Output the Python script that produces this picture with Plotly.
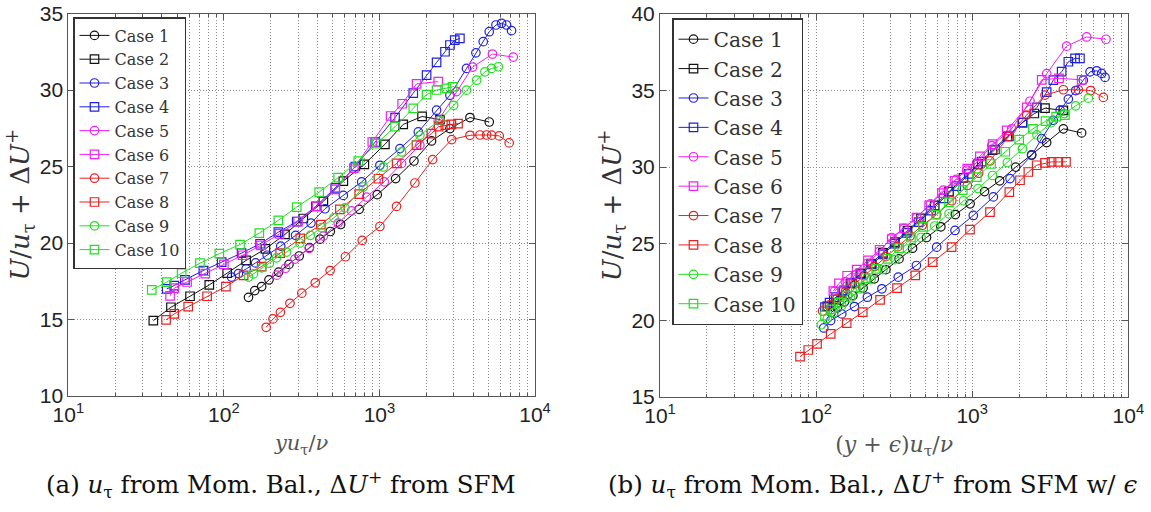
import plotly.graph_objects as go

# ---------------- Panel (a): u_tau from Mom. Bal., dU+ from SFM ----------------
a_x1 = [144, 158, 175, 195, 225, 262, 305, 355, 415, 483, 563, 741, 968, 1271, 1667, 2162, 2838, 3818, 5080]
a_y1 = [16.45, 16.89, 17.15, 17.59, 18.1, 18.6, 19.15, 19.7, 20.25, 20.75, 21.21, 22.2, 23.16, 24.21, 25.36, 26.67, 27.48, 28.2, 27.91]
a_x2 = [35.2, 45.7, 60.6, 80.6, 105, 139, 185, 247, 324, 436, 586, 800, 1084, 1422, 1880, 2450]
a_y2 = [14.93, 15.8, 16.52, 17.26, 18.03, 18.86, 19.62, 20.56, 21.6, 22.72, 24.05, 25.14, 26.45, 27.75, 28.27, 28.07]
a_x3 = [112, 124, 139, 160, 190, 232, 289, 363, 447, 586, 769, 1007, 1355, 1778, 2330, 2838, 3630, 4169, 4645, 5080, 5610, 6100, 6565, 7066]
a_y3 = [17.77, 18.0, 18.3, 18.7, 19.2, 19.8, 20.5, 21.3, 22.24, 23.11, 23.99, 25.08, 26.17, 27.26, 28.68, 29.66, 31.41, 32.43, 33.16, 33.81, 34.25, 34.36, 34.25, 33.88]
a_x4 = [42.9, 48, 56.2, 73.8, 96.8, 130, 171, 224, 294, 390, 520, 700, 940, 1260, 1650, 2010, 2330, 2640, 2840, 3050, 3290]
a_y4 = [17.0, 17.22, 17.59, 18.2, 18.75, 19.34, 19.95, 20.71, 21.4, 22.4, 23.6, 25.0, 26.6, 28.2, 29.8, 30.97, 31.8, 32.5, 32.94, 33.26, 33.37]
a_x5 = [219, 249, 286, 354, 436, 543, 662, 826, 1074, 1387, 1820, 2387, 3130, 3970, 5330, 7250]
a_y5 = [17.9, 18.35, 18.95, 19.65, 20.45, 21.3, 22.1, 23.0, 24.0, 25.2, 26.4, 28.0, 29.9, 31.5, 32.35, 32.15]
a_x6 = [45.1, 48, 58, 76, 100, 132, 173, 228, 300, 395, 520, 685, 900, 1180, 1400, 1733, 2387]
a_y6 = [16.55, 17.05, 17.45, 18.0, 18.6, 19.2, 19.85, 20.6, 21.4, 22.4, 23.5, 24.9, 26.6, 28.3, 29.1, 30.4, 30.55]
a_x7 = [187, 207, 231, 266, 317, 387, 482, 605, 775, 1007, 1288, 1690, 2198, 2913, 3818, 4426, 4887, 5263, 5888, 6823]
a_y7 = [14.49, 15.04, 15.47, 16.06, 16.72, 17.4, 18.2, 19.1, 20.17, 21.08, 22.39, 23.92, 25.45, 26.76, 27.04, 27.06, 27.06, 27.05, 27.0, 26.54]
a_x8 = [42.5, 48, 59, 78, 103, 134, 175, 230, 310, 420, 557, 741, 985, 1290, 1730, 2160, 2400, 2650, 2900, 3200]
a_y8 = [14.97, 15.37, 15.84, 16.52, 17.15, 17.88, 18.46, 19.34, 20.3, 21.2, 22.2, 23.2, 24.2, 25.2, 26.4, 27.15, 27.6, 27.7, 27.75, 27.8]
a_x9 = [144, 155, 175, 196, 218, 253, 308, 360, 425, 510, 600, 788, 1060, 1387, 1820, 2449, 3000, 3630, 4217, 4766, 5263, 5808]
a_y9 = [17.77, 17.98, 18.38, 18.68, 19.03, 19.4, 20.0, 20.5, 21.0, 21.65, 22.3, 23.66, 24.97, 25.95, 27.04, 28.03, 29.0, 29.99, 30.64, 31.19, 31.41, 31.52]
a_x10 = [34.4, 42.9, 53.5, 70.2, 93.5, 127, 169, 224, 294, 410, 543, 731, 960, 1260, 1650, 2010, 2330, 2700, 2950]
a_y10 = [16.94, 17.44, 18.03, 18.68, 19.3, 19.9, 20.65, 21.48, 22.35, 23.33, 24.27, 25.35, 26.5, 27.6, 28.8, 29.7, 30.0, 30.1, 30.2]

# ---------------- Panel (b): ... from SFM w/ epsilon ----------------
b_x1 = [125, 137, 152, 172, 200, 236, 280, 340, 415, 510, 630, 780, 970, 1200, 1500, 1900, 2400, 3000, 3837, 5023]
b_y1 = [20.5, 20.8, 21.2, 21.6, 22.1, 22.7, 23.3, 24.0, 24.7, 25.4, 26.1, 26.9, 27.6, 28.4, 29.1, 30.0, 30.8, 31.6, 32.5, 32.23]
b_x2 = [118, 130, 146, 166, 192, 225, 268, 320, 385, 470, 575, 710, 880, 1090, 1350, 1680, 2100, 2500, 2926, 3837]
b_y2 = [20.9, 21.35, 21.85, 22.4, 23.05, 23.7, 24.4, 25.1, 25.85, 26.65, 27.5, 28.4, 29.3, 30.2, 31.1, 32.0, 32.9, 33.5, 33.85, 33.7]
b_x3 = [112, 124, 146, 176, 213, 264, 336, 439, 592, 776, 1016, 1366, 1747, 2406, 2787, 3310, 3660, 4130, 4600, 5150, 5690, 6270, 6750, 7095]
b_y3 = [19.49, 19.97, 20.41, 20.89, 21.5, 22.05, 22.81, 23.57, 24.77, 25.86, 26.84, 28.05, 29.25, 30.77, 31.86, 33.06, 33.72, 34.44, 35.0, 35.68, 36.22, 36.29, 36.12, 35.86]
b_x4 = [114, 122, 134, 150, 170, 195, 228, 268, 318, 380, 455, 545, 655, 790, 950, 1150, 1400, 1720, 2100, 2600, 3000, 3310, 3740, 4130, 4560, 4900]
b_y4 = [20.85, 21.15, 21.5, 21.95, 22.45, 23.0, 23.65, 24.3, 25.0, 25.7, 26.4, 27.15, 27.95, 28.75, 29.55, 30.35, 31.15, 32.0, 32.9, 33.9, 34.9, 35.68, 36.23, 36.88, 37.1, 37.1]
b_x5 = [131, 154, 181, 213, 255, 305, 365, 441, 540, 654, 790, 922, 1070, 1334, 1790, 2345, 3000, 4027, 5408, 7194]
b_y5 = [21.9, 22.5, 23.0, 23.7, 24.5, 25.4, 26.0, 26.7, 27.6, 28.5, 29.2, 29.8, 30.3, 31.4, 32.5, 34.3, 36.1, 37.9, 38.5, 38.35]
b_x6 = [129, 140, 158, 182, 215, 255, 305, 365, 440, 530, 640, 770, 930, 1120, 1350, 1663, 2234, 2787, 3600, 5023]
b_y6 = [21.9, 22.4, 22.9, 23.3, 23.9, 24.6, 25.3, 26.0, 26.7, 27.5, 28.3, 29.1, 29.9, 30.7, 31.5, 32.4, 33.9, 35.7, 35.8, 35.7]
b_x7 = [110, 122, 136, 154, 176, 203, 237, 280, 334, 400, 480, 592, 740, 930, 1100, 1300, 1706, 2234, 2926, 3837, 4786, 5741, 6922]
b_y7 = [20.6, 21.0, 21.4, 21.85, 22.35, 22.9, 23.5, 24.15, 24.8, 25.5, 26.2, 26.9, 27.8, 28.8, 29.6, 30.4, 32.0, 33.4, 34.7, 35.05, 35.05, 35.0, 34.55]
b_x8 = [78.9, 89.1, 101.4, 124, 157, 199, 257, 330, 432, 558, 738, 968, 1300, 1729, 2024, 2290, 2590, 2926, 3225, 3561, 3989]
b_y8 = [17.62, 18.05, 18.45, 19.1, 19.8, 20.52, 21.33, 22.09, 22.92, 23.79, 24.77, 25.91, 27.06, 28.37, 29.14, 29.68, 30.12, 30.27, 30.34, 30.34, 30.34]
b_x9 = [108, 118, 130, 146, 166, 192, 225, 268, 320, 385, 470, 575, 710, 880, 1090, 1350, 1680, 2100, 2600, 3200, 3900, 4600, 5546]
b_y9 = [19.7, 20.1, 20.5, 20.95, 21.45, 22.05, 22.65, 23.3, 23.95, 24.65, 25.4, 26.15, 26.95, 27.8, 28.6, 29.45, 30.3, 31.2, 32.1, 32.9, 33.5, 34.0, 34.5]
b_x10 = [114, 125, 140, 158, 180, 208, 243, 287, 340, 405, 485, 585, 710, 870, 1070, 1320, 1630, 2000, 2450, 2950, 3450, 3926]
b_y10 = [20.3, 20.7, 21.15, 21.6, 22.15, 22.75, 23.35, 24.0, 24.7, 25.4, 26.1, 26.9, 27.7, 28.5, 29.35, 30.2, 31.0, 31.8, 32.5, 33.0, 33.3, 33.4]

case_names = ["Case 1", "Case 2", "Case 3", "Case 4", "Case 5",
              "Case 6", "Case 7", "Case 8", "Case 9", "Case 10"]
case_colors = ["#111111", "#111111", "#2020e0", "#2020e0", "#f020f0",
               "#f020f0", "#ea2020", "#ea2020", "#20e020", "#20e020"]
case_symbols = ["circle-open", "square-open"] * 5

panel_a = [(a_x1, a_y1), (a_x2, a_y2), (a_x3, a_y3), (a_x4, a_y4), (a_x5, a_y5),
           (a_x6, a_y6), (a_x7, a_y7), (a_x8, a_y8), (a_x9, a_y9), (a_x10, a_y10)]
panel_b = [(b_x1, b_y1), (b_x2, b_y2), (b_x3, b_y3), (b_x4, b_y4), (b_x5, b_y5),
           (b_x6, b_y6), (b_x7, b_y7), (b_x8, b_y8), (b_x9, b_y9), (b_x10, b_y10)]

fig = go.Figure()
for i, (xs, ys) in enumerate(panel_a):
    fig.add_trace(go.Scatter(
        x=xs, y=ys, mode="lines+markers", name=case_names[i],
        line=dict(color=case_colors[i], width=1),
        marker=dict(symbol=case_symbols[i], size=8.5, color=case_colors[i], line=dict(width=1.2)),
        xaxis="x", yaxis="y", legend="legend"))
for i, (xs, ys) in enumerate(panel_b):
    fig.add_trace(go.Scatter(
        x=xs, y=ys, mode="lines+markers", name=case_names[i],
        line=dict(color=case_colors[i], width=1),
        marker=dict(symbol=case_symbols[i], size=8.5, color=case_colors[i], line=dict(width=1.2)),
        xaxis="x2", yaxis="y2", legend="legend2"))

W, H = 1151, 512
major_x = [10, 100, 1000, 10000]
major_txt = ["10<sup>1</sup>", "10<sup>2</sup>", "10<sup>3</sup>", "10<sup>4</sup>"]
minor_x = [m * d for d in (10, 100, 1000) for m in range(2, 10)]

grid_col = "#8c8c8c"
grid_dash = "1px,2px"
axis_col = "#555555"
tick_font = dict(family="Liberation Sans, Arial, sans-serif", size=21, color="#222222")
serif = "DejaVu Serif, serif"


def xaxis_cfg(domain, title, anchor, tsize):
    return dict(
        domain=domain, type="log", range=[1, 4], anchor=anchor, automargin=False,
        tickmode="array", tickvals=major_x, ticktext=major_txt,
        tickfont=tick_font, ticks="inside", ticklen=6, tickcolor=axis_col,
        showline=True, linecolor=axis_col, linewidth=1, mirror="ticks",
        showgrid=True, gridcolor=grid_col, griddash=grid_dash, gridwidth=1,
        minor=dict(tickvals=minor_x, ticks="inside", ticklen=3, tickcolor=axis_col,
                   showgrid=True, gridcolor=grid_col, griddash=grid_dash, gridwidth=1),
        zeroline=False,
        title=dict(text=title, font=dict(family=serif, size=tsize, color="#555555"), standoff=10),
    )


def yaxis_cfg(domain, rng, anchor):
    return dict(
        domain=domain, range=rng, dtick=5, tick0=0, anchor=anchor, automargin=False,
        tickfont=tick_font, ticks="inside", ticklen=6, tickcolor=axis_col,
        showline=True, linecolor=axis_col, linewidth=1, mirror="ticks",
        showgrid=True, gridcolor=grid_col, griddash=grid_dash, gridwidth=1,
        zeroline=False,
        title=dict(text="<i>U</i>/<i>u</i><sub>τ</sub> + Δ<i>U</i><sup>+</sup>",
                   font=dict(family=serif, size=26, color="#333333"), standoff=2),
    )


fig.update_layout(
    width=W, height=H, autosize=False,
    margin=dict(l=0, r=0, t=0, b=0, autoexpand=False),
    paper_bgcolor="white", plot_bgcolor="white",
    xaxis=xaxis_cfg([68.3 / W, 535 / W], "<i>yu</i><sub>τ</sub>/<i>ν</i>", "y", 21),
    yaxis=yaxis_cfg([(512 - 396) / H, (512 - 13.5) / H], [10, 35], "x"),
    xaxis2=xaxis_cfg([660 / W, 1128.3 / W],
                     "(<i>y</i> + <i>ϵ</i>)<i>u</i><sub>τ</sub>/<i>ν</i>", "y2", 22),
    yaxis2=yaxis_cfg([(512 - 396.7) / H, (512 - 14) / H], [15, 40], "x2"),
    legend=dict(x=73 / W, y=1 - 17 / H, xanchor="left", yanchor="top",
                bgcolor="white", bordercolor="#333333", borderwidth=1.5,
                font=dict(family=serif, size=16, color="#333333"),
                itemwidth=30, tracegroupgap=0),
    legend2=dict(x=672 / W, y=1 - 18 / H, xanchor="left", yanchor="top",
                 bgcolor="white", bordercolor="#333333", borderwidth=1.5,
                 font=dict(family=serif, size=20.3, color="#333333"),
                 itemwidth=30, tracegroupgap=0),
    annotations=[
        dict(text="(a) <i>u</i><sub>τ</sub> from Mom. Bal., Δ<i>U</i><sup>+</sup> from SFM",
             x=281 / W, y=1 - 484 / H, xref="paper", yref="paper",
             xanchor="center", yanchor="middle", showarrow=False,
             font=dict(family=serif, size=24.5, color="#111111")),
        dict(text="(b) <i>u</i><sub>τ</sub> from Mom. Bal., Δ<i>U</i><sup>+</sup> from SFM w/ <i>ϵ</i>",
             x=872 / W, y=1 - 484 / H, xref="paper", yref="paper",
             xanchor="center", yanchor="middle", showarrow=False,
             font=dict(family=serif, size=24.5, color="#111111")),
    ],
)

fig.write_html("out.html")
